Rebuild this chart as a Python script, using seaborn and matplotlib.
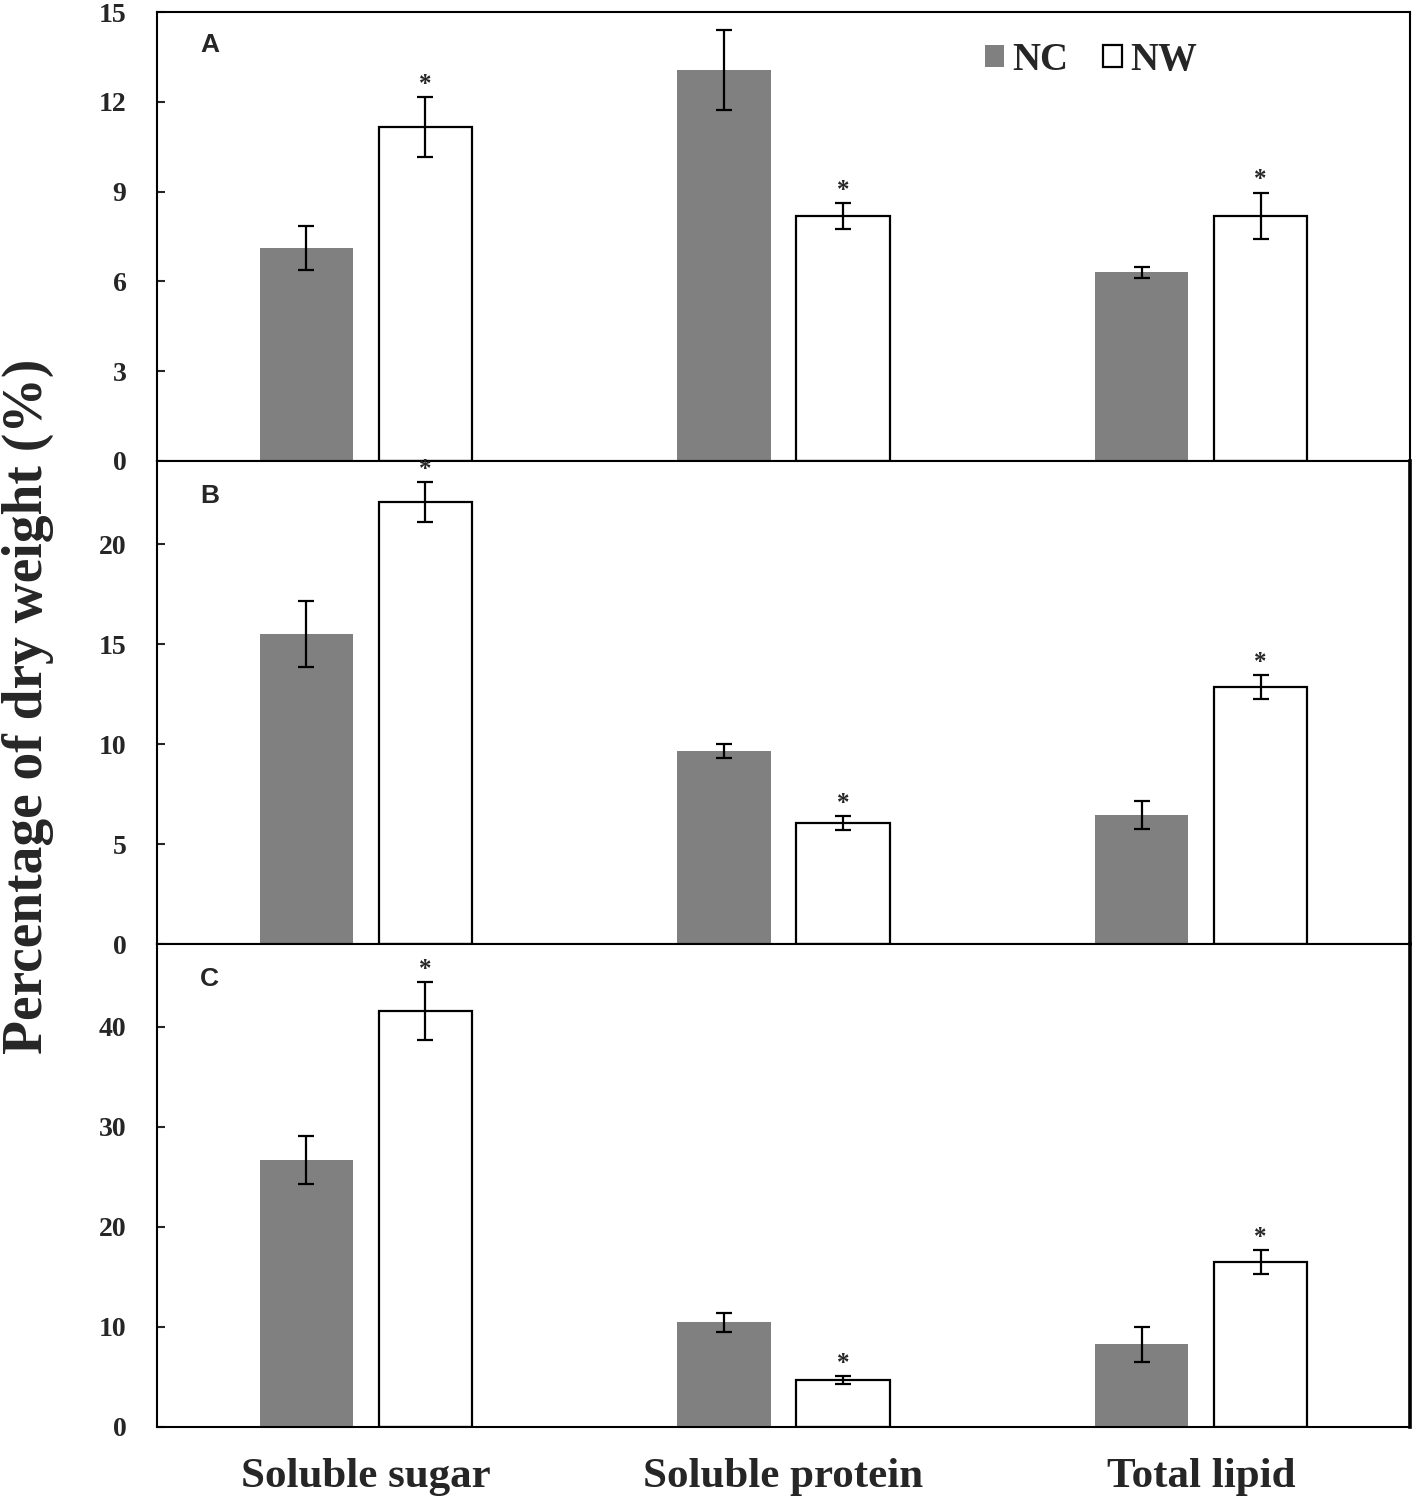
import seaborn as sns
import pandas as pd
from matplotlib import pyplot as plt

components = ['Soluble sugar', 'Soluble protein', 'Total lipid']
groups = ['NC', 'NW']

# panel A
a_nc = [7.12, 13.06, 6.31]
a_nc_err = [0.73, 1.34, 0.18]
a_nw = [11.16, 8.19, 8.19]
a_nw_err = [1.0, 0.43, 0.77]
# panel B
b_nc = [15.5, 9.65, 6.45]
b_nc_err = [1.65, 0.35, 0.72]
b_nw = [22.1, 6.05, 12.85]
b_nw_err = [1.0, 0.33, 0.6]
# panel C
c_nc = [26.7, 10.5, 8.3]
c_nc_err = [2.4, 0.95, 1.75]
c_nw = [41.6, 4.7, 16.5]
c_nw_err = [2.9, 0.4, 1.2]

panels = [
    ('A', a_nc, a_nc_err, a_nw, a_nw_err, 15, [0, 3, 6, 9, 12, 15]),
    ('B', b_nc, b_nc_err, b_nw, b_nw_err, 24.15, [0, 5, 10, 15, 20]),
    ('C', c_nc, c_nc_err, c_nw, c_nw_err, 48.3, [0, 10, 20, 30, 40]),
]

sns.set_style('white')
plt.rcParams['font.family'] = ['Liberation Serif', 'DejaVu Serif']
plt.rcParams['font.weight'] = 'bold'

fig = plt.figure(figsize=(14.17, 15.03), dpi=100)
W, H = 1417, 1503
boxes = [(12, 461), (461, 944), (944, 1427)]

for i, (letter, nc, nc_err, nw, nw_err, ytop, yt) in enumerate(panels):
    top, bot = boxes[i]
    ax = fig.add_axes([157 / W, 1 - bot / H, 1253 / W, (bot - top) / H])
    df = pd.DataFrame({
        'component': components * 2,
        'group': ['NC'] * 3 + ['NW'] * 3,
        'value': nc + nw,
    })
    sns.barplot(data=df, x='component', y='value', hue='group', order=components,
                hue_order=groups, palette={'NC': '#808080', 'NW': 'white'},
                saturation=1, width=0.57, gap=0.218, errorbar=None, legend=False, ax=ax)
    for bar in ax.containers[0]:
        bar.set_edgecolor('none')
    for bar in ax.containers[1]:
        bar.set_edgecolor('black')
        bar.set_linewidth(1.6)

    for cont, errs, star in [(ax.containers[0], nc_err, False), (ax.containers[1], nw_err, True)]:
        for bar, e in zip(cont, errs):
            xc = bar.get_x() + bar.get_width() / 2
            h = bar.get_height()
            ax.errorbar(xc, h, yerr=e, color='black', lw=1.6, capsize=5.5, capthick=1.6)
            if star:
                ax.annotate('*', (xc, h + e), xytext=(0, 1), textcoords='offset points',
                            ha='center', va='bottom', fontsize=18, fontweight='bold')

    ax.set_xlim(-0.5, 2.5)
    ax.set_ylim(0, ytop)
    ax.set_yticks(yt)
    ax.set_ylabel('')
    ax.set_xlabel('')
    ax.tick_params(axis='y', direction='in', length=6, width=1.5, pad=22, labelsize=20, left=True)
    ax.tick_params(axis='x', length=0, labelsize=31, pad=22)
    for lab in ax.get_yticklabels():
        lab.set_fontweight('bold')
    if i < 2:
        ax.set_xticklabels([])
    else:
        for lab in ax.get_xticklabels():
            lab.set_fontweight('bold')
    for s in ax.spines.values():
        s.set_color('black')
        s.set_linewidth(1.5)
    if i > 0:
        ax.spines['right'].set_linewidth(2.6)

    ax.text(0.042, 0.927, letter, transform=ax.transAxes, ha='center', va='center',
            fontsize=19, fontweight='bold', family='Liberation Sans')

    if i == 0:
        h1, h2 = ax.containers[0][0], ax.containers[1][0]
        ax.legend([h1, h2], groups, loc='upper left', bbox_to_anchor=(0.645, 0.976),
                  ncol=2, frameon=False, borderpad=0, handlelength=0.5, handleheight=0.5,
                  handletextpad=0.2, columnspacing=0.9, prop={'size': 28, 'weight': 'bold'})

fig.text(28 / W, 1 - 706 / H, 'Percentage of dry weight (%)', rotation=90,
         ha='center', va='center', fontsize=40, fontweight='bold')

fig.savefig('out.png', dpi=100)
